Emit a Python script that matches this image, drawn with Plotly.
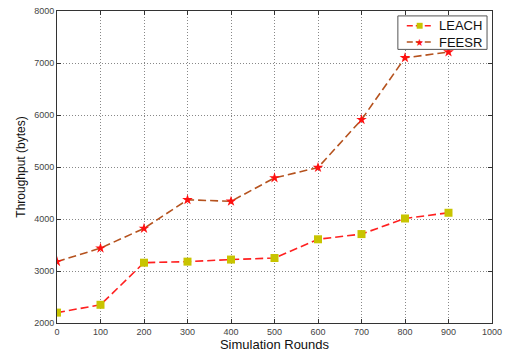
import plotly.graph_objects as go

rounds = [0, 100, 200, 300, 400, 500, 600, 700, 800, 900]
leach = [2200, 2350, 3160, 3180, 3220, 3250, 3610, 3710, 4010, 4120]
feesr = [3180, 3440, 3820, 4370, 4340, 4790, 4990, 5910, 7100, 7210]
x_ticks = [0, 100, 200, 300, 400, 500, 600, 700, 800, 900, 1000]
y_ticks = [2000, 3000, 4000, 5000, 6000, 7000, 8000]
series_names = ["LEACH", "FEESR"]
line_colors = ["#ff2020", "#b5521e"]
marker_colors = ["#c8c400", "#ff1010"]

W, H = 508, 355
ML, MR, MT, MB = 57, 12, 6, 32
DASH = "8px,4px"

fig = go.Figure()
fig.add_trace(go.Scatter(
    x=rounds, y=leach, name=series_names[0], mode="lines+markers",
    line=dict(color=line_colors[0], width=1.6, dash=DASH),
    marker=dict(symbol="square", size=8, color=marker_colors[0], line=dict(width=0)),
    showlegend=False,
))
fig.add_trace(go.Scatter(
    x=rounds, y=feesr, name=series_names[1], mode="lines+markers",
    line=dict(color=line_colors[1], width=1.6, dash=DASH),
    marker=dict(symbol="star", size=8, color=marker_colors[1], line=dict(width=0)),
    showlegend=False,
))

axis_common = dict(
    showgrid=True, gridcolor="#888888", griddash="1px,2px", gridwidth=1,
    showline=True, linecolor="#333333", linewidth=1, mirror="ticks",
    ticks="inside", ticklen=4, tickcolor="#333333",
    tickfont=dict(family="Liberation Sans, Arial", size=9, color="#444444"),
    zeroline=False,
)
fig.update_xaxes(range=[0, 1000], tickvals=x_ticks,
                 title=dict(text="Simulation Rounds", standoff=2,
                            font=dict(family="Liberation Sans, Arial", size=13, color="#111111")),
                 **axis_common)
fig.update_yaxes(range=[2000, 8000], tickvals=y_ticks,
                 title=dict(text="Throughput (bytes)", standoff=5,
                            font=dict(family="Liberation Sans, Arial", size=12, color="#111111")),
                 **axis_common)

# Custom compact legend; pixel positions converted to plot-area (paper) fractions
PW, PH = W - ML - MR, H - MT - MB

def px(x):
    return (x - ML) / PW

def py(y):
    return (H - MB - y) / PH

shapes = [dict(type="rect", xref="paper", yref="paper",
               x0=px(401), x1=px(491), y0=py(45), y1=py(11),
               line=dict(color="#555555", width=1), fillcolor="white", layer="above")]
annotations = []
rows = [21, 37.5]
for i, name in enumerate(series_names):
    yc = rows[i]
    shapes.append(dict(type="line", xref="paper", yref="paper",
                       x0=px(410), x1=px(437), y0=py(yc), y1=py(yc),
                       line=dict(color=line_colors[i], width=1.6, dash="6px,3px"), layer="above"))
    annotations.append(dict(xref="paper", yref="paper", x=px(441), y=py(yc),
                            xanchor="left", yanchor="middle", showarrow=False,
                            text=name, borderpad=0,
                            font=dict(family="Liberation Sans, Arial", size=13, color="#111111")))
shapes.append(dict(type="rect", xref="paper", yref="paper",
                   x0=px(420), x1=px(426), y0=py(24), y1=py(18),
                   line=dict(width=0), fillcolor=marker_colors[0], layer="above"))
annotations.append(dict(xref="paper", yref="paper", x=px(423), y=py(37.5),
                        xanchor="center", yanchor="middle", showarrow=False,
                        text="★", borderpad=0, font=dict(size=10, color=marker_colors[1])))

fig.update_layout(
    width=W, height=H,
    margin=dict(l=ML, r=MR, t=MT, b=MB),
    paper_bgcolor="white", plot_bgcolor="white",
    showlegend=False,
    shapes=shapes, annotations=annotations,
)
fig.write_html("out.html")
